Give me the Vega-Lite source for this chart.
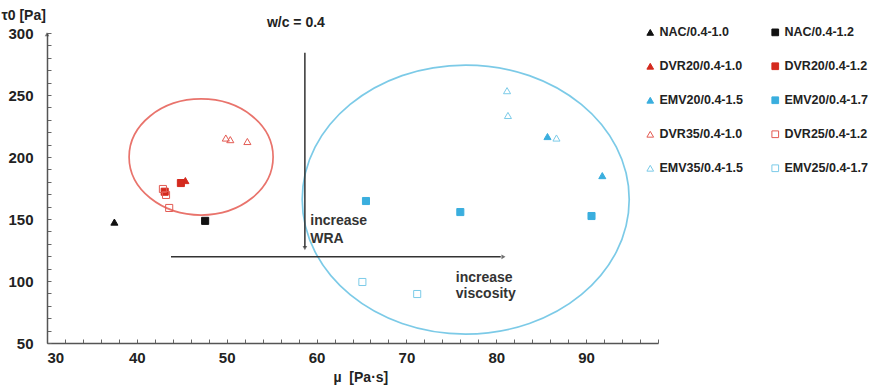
{
  "$schema": "https://vega.github.io/schema/vega-lite/v6.json",
  "width": 611,
  "height": 310,
  "autosize": {"type": "none"},
  "padding": {"left": 47, "top": 33, "right": 219, "bottom": 45},
  "background": "white",
  "config": {
    "view": {"stroke": null},
    "font": "Liberation Sans",
    "axis": {
      "grid": false,
      "domainColor": "#555",
      "domainWidth": 1.5,
      "tickColor": "#666",
      "labelFont": "Liberation Sans",
      "labelFontWeight": "bold",
      "labelFontSize": 15,
      "labelColor": "#222",
      "labelOverlap": false,
      "titleFont": "Liberation Sans",
      "titleFontWeight": "bold",
      "titleFontSize": 14,
      "titleColor": "#222"
    },
    "legend": {
      "labelFont": "Liberation Sans",
      "labelFontWeight": "bold",
      "labelFontSize": 12.5,
      "labelColor": "#222"
    }
  },
  "encoding": {
    "x": {
      "field": "mu",
      "type": "quantitative",
      "scale": {"domain": [30, 98], "nice": false, "zero": false},
      "axis": {
        "values": [30,32,34,36,38,40,42,44,46,48,50,52,54,56,58,60,62,64,66,68,70,72,74,76,78,80,82,84,86,88,90,92,94,96,98],
        "labelExpr": "datum.value % 10 === 0 ? datum.label : ''",
        "labelOverlap": false,
        "tickSize": -4,
        "labelPadding": 11,
        "title": "µ\u00a0 [Pa·s]",
        "titleX": 286,
        "titleY": 38,
        "titleAlign": "left",
        "titleBaseline": "alphabetic"
      }
    },
    "y": {
      "field": "tau",
      "type": "quantitative",
      "scale": {"domain": [50, 300], "nice": false, "zero": false},
      "axis": {
        "values": [50,60,70,80,90,100,110,120,130,140,150,160,170,180,190,200,210,220,230,240,250,260,270,280,290,300],
        "labelExpr": "datum.value % 50 === 0 ? datum.label : ''",
        "labelOverlap": false,
        "tickSize": -4,
        "labelPadding": 18,
        "title": "τ0 [Pa]",
        "titleAngle": 0,
        "titleX": -46,
        "titleY": -14,
        "titleAlign": "left",
        "titleBaseline": "alphabetic"
      }
    }
  },
  "layer": [
    {
      "data": {"values": [{"mu": 47.15, "tau": 200}]},
      "mark": {
        "type": "point",
        "shape": "M-1,0A1,0.806 0 1,0 1,0A1,0.806 0 1,0 -1,0Z",
        "filled": false,
        "stroke": "#e0392e",
        "strokeWidth": 1.7,
        "size": 20736
      }
    },
    {
      "data": {"values": [{"mu": 76.6, "tau": 165.7}]},
      "mark": {
        "type": "point",
        "shape": "M-1,0A1,0.8226 0 1,0 1,0A1,0.8226 0 1,0 -1,0Z",
        "filled": false,
        "stroke": "#45b5de",
        "strokeWidth": 1.7,
        "size": 106929
      }
    },
    {
      "data": {"values": [
        {"mu": 58.7, "mu2": 58.7, "tau": 284, "tau2": 127},
        {"mu": 43.8, "mu2": 80.5, "tau": 119.5, "tau2": 119.5}
      ]},
      "mark": {"type": "rule", "color": "#333", "strokeWidth": 1.5},
      "encoding": {
        "x2": {"field": "mu2"},
        "y2": {"field": "tau2"}
      }
    },
    {
      "data": {"values": [{"mu": 58.7, "tau": 126.5}]},
      "mark": {"type": "point", "shape": "triangle-down", "filled": true, "color": "#333", "size": 22}
    },
    {
      "data": {"values": [{"mu": 80.8, "tau": 119.5}]},
      "mark": {"type": "point", "shape": "triangle-right", "filled": true, "color": "#333", "size": 22}
    },
    {
      "data": {"values": [{"mu": 30, "tau": 299}]},
      "mark": {"type": "point", "shape": "triangle-up", "filled": true, "color": "#444", "size": 20}
    },
    {
      "data": {"values": [{"mu": 57.7, "tau": 304.8, "t": "w/c = 0.4"}]},
      "mark": {"type": "text", "align": "center", "baseline": "alphabetic", "fontSize": 14, "fontWeight": "bold", "color": "#222"},
      "encoding": {"text": {"field": "t"}}
    },
    {
      "data": {"values": [
        {"mu": 59.3, "tau": 145, "t": "increase"},
        {"mu": 59.3, "tau": 131, "t": "WRA"},
        {"mu": 75.5, "tau": 99.4, "t": "increase"},
        {"mu": 75.5, "tau": 86.3, "t": "viscosity"}
      ]},
      "mark": {"type": "text", "align": "left", "baseline": "alphabetic", "fontSize": 14, "fontWeight": "bold", "color": "#333"},
      "encoding": {"text": {"field": "t"}}
    },
    {
      "data": {"values": [
        {"series": "NAC/0.4-1.0", "mu": 37.5, "tau": 147.5},
        {"series": "NAC/0.4-1.2", "mu": 47.6, "tau": 148.5},
        {"series": "DVR20/0.4-1.0", "mu": 45.4, "tau": 181},
        {"series": "DVR20/0.4-1.2", "mu": 44.9, "tau": 179},
        {"series": "DVR20/0.4-1.2", "mu": 43.1, "tau": 172},
        {"series": "DVR25/0.4-1.2", "mu": 42.9, "tau": 174.2},
        {"series": "DVR25/0.4-1.2", "mu": 43.25, "tau": 169.4},
        {"series": "DVR25/0.4-1.2", "mu": 43.6, "tau": 158.9},
        {"series": "DVR35/0.4-1.0", "mu": 49.9, "tau": 215.3},
        {"series": "DVR35/0.4-1.0", "mu": 50.4, "tau": 214},
        {"series": "DVR35/0.4-1.0", "mu": 52.3, "tau": 212.5},
        {"series": "EMV20/0.4-1.5", "mu": 85.7, "tau": 216.5},
        {"series": "EMV20/0.4-1.5", "mu": 91.8, "tau": 185},
        {"series": "EMV35/0.4-1.5", "mu": 81.2, "tau": 253.5},
        {"series": "EMV35/0.4-1.5", "mu": 81.3, "tau": 233.5},
        {"series": "EMV35/0.4-1.5", "mu": 86.7, "tau": 215.3},
        {"series": "EMV20/0.4-1.7", "mu": 65.5, "tau": 164.5},
        {"series": "EMV20/0.4-1.7", "mu": 76.0, "tau": 155.6},
        {"series": "EMV20/0.4-1.7", "mu": 90.6, "tau": 152.4},
        {"series": "EMV25/0.4-1.7", "mu": 65.1, "tau": 99.2},
        {"series": "EMV25/0.4-1.7", "mu": 71.2, "tau": 89.5}
      ]},
      "mark": {"type": "point", "filled": true, "strokeWidth": 1, "size": 50, "opacity": 1},
      "encoding": {
        "shape": {
          "field": "series",
          "type": "nominal",
          "scale": {
            "domain": ["NAC/0.4-1.0","DVR20/0.4-1.0","EMV20/0.4-1.5","DVR35/0.4-1.0","EMV35/0.4-1.5","NAC/0.4-1.2","DVR20/0.4-1.2","EMV20/0.4-1.7","DVR25/0.4-1.2","EMV25/0.4-1.7"],
            "range": ["triangle-up","triangle-up","triangle-up","triangle-up","triangle-up","square","square","square","square","square"]
          },
          "legend": {
            "title": null,
            "orient": "none",
            "legendX": 597,
            "legendY": -7,
            "columns": 2,
            "columnPadding": 26,
            "rowPadding": 21,
            "labelOffset": 3,
            "symbolSize": 45,
            "symbolStrokeWidth": 1,
            "padding": 0
          }
        },
        "fill": {
          "field": "series",
          "type": "nominal",
          "scale": {
            "domain": ["NAC/0.4-1.0","DVR20/0.4-1.0","EMV20/0.4-1.5","DVR35/0.4-1.0","EMV35/0.4-1.5","NAC/0.4-1.2","DVR20/0.4-1.2","EMV20/0.4-1.7","DVR25/0.4-1.2","EMV25/0.4-1.7"],
            "range": ["#111111","#d42a1e","#3aaede","transparent","transparent","#111111","#d42a1e","#3aaede","transparent","transparent"]
          }
        },
        "stroke": {
          "field": "series",
          "type": "nominal",
          "scale": {
            "domain": ["NAC/0.4-1.0","DVR20/0.4-1.0","EMV20/0.4-1.5","DVR35/0.4-1.0","EMV35/0.4-1.5","NAC/0.4-1.2","DVR20/0.4-1.2","EMV20/0.4-1.7","DVR25/0.4-1.2","EMV25/0.4-1.7"],
            "range": ["#111111","#d42a1e","#3aaede","#e35b53","#7ccbe8","#111111","#d42a1e","#3aaede","#e35b53","#7ccbe8"]
          }
        }
      }
    }
  ]
}
